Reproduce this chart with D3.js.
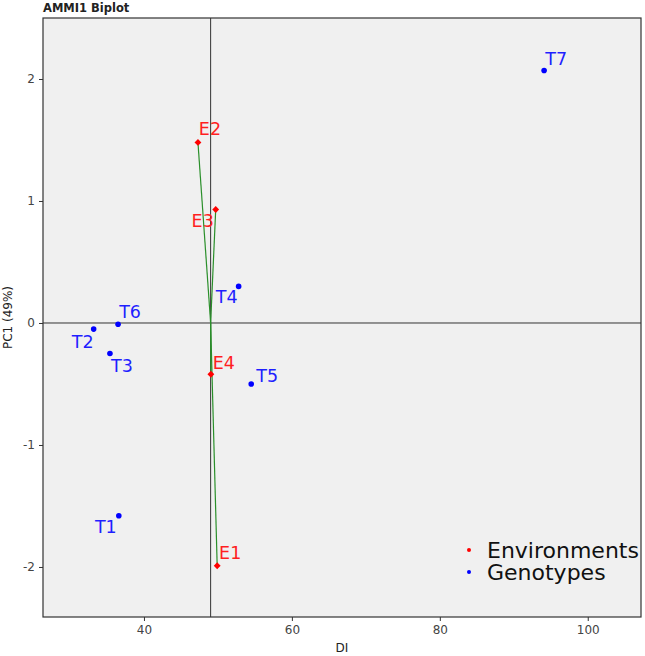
<!DOCTYPE html>
<html>
<head>
<meta charset="utf-8">
<script src="https://cdn.jsdelivr.net/npm/d3@7"></script>
<style>
  body { margin: 0; background: #fff; font-family: "DejaVu Sans", sans-serif; }
</style>
</head>
<body>
<script>
// genotypes
var genoNames = ["T1", "T2", "T3", "T4", "T5", "T6", "T7"];
var genoDI    = [36.6, 33.2, 35.4, 52.8, 54.5, 36.5, 94.1];
var genoPC1   = [-1.58, -0.05, -0.25, 0.30, -0.50, -0.01, 2.07];

// environments
var envNames = ["E1", "E2", "E3", "E4"];
var envDI    = [49.9, 47.3, 49.7, 49.05];
var envPC1   = [-1.99, 1.48, 0.93, -0.42];

var xTicks = [40, 60, 80, 100];
var yTicks = [-2, -1, 0, 1, 2];

// label nudges (px) so names sit like the original plot
var nudge = {
  T1: [-13, 17], T2: [-11, 19], T3: [12, 19], T4: [-12, 17], T5: [16, -2],
  T6: [12, -6], T7: [12, -5], E1: [13, -7], E2: [12, -7], E3: [-13, 17], E4: [13, -5]
};

var W = 645, H = 656;
var margin = {top: 18, right: 4, bottom: 39, left: 43};
var iw = W - margin.left - margin.right,
    ih = H - margin.top - margin.bottom;

var meanDI = d3.mean(genoDI);

var x = d3.scaleLinear().domain([26.35, 107.2]).range([0, iw]);
var y = d3.scaleLinear().domain([-2.41, 2.5]).range([ih, 0]);

var svg = d3.select("body").append("svg")
    .attr("width", W).attr("height", H);

svg.append("text")
    .attr("x", margin.left).attr("y", 12)
    .attr("font-size", 11.5).attr("font-weight", "bold")
    .attr("fill", "#222")
    .text("AMMI1 Biplot");

var g = svg.append("g").attr("transform", "translate(" + margin.left + "," + margin.top + ")");

g.append("rect").attr("width", iw).attr("height", ih).attr("fill", "#f0f0f0");

// reference lines
g.append("line")
    .attr("x1", 0).attr("x2", iw).attr("y1", y(0)).attr("y2", y(0))
    .attr("stroke", "#333").attr("stroke-width", 1);
g.append("line")
    .attr("x1", x(meanDI)).attr("x2", x(meanDI)).attr("y1", 0).attr("y2", ih)
    .attr("stroke", "#333").attr("stroke-width", 1);

// environment vectors
g.selectAll("line.vec")
    .data(envNames)
    .enter().append("line")
    .attr("class", "vec")
    .attr("x1", x(meanDI)).attr("y1", y(0))
    .attr("x2", function(d, i) { return x(envDI[i]); })
    .attr("y2", function(d, i) { return y(envPC1[i]); })
    .attr("stroke", "#2a8f2a").attr("stroke-width", 1.2);

// genotype points
g.selectAll("circle.geno")
    .data(genoNames)
    .enter().append("circle")
    .attr("class", "geno")
    .attr("cx", function(d, i) { return x(genoDI[i]); })
    .attr("cy", function(d, i) { return y(genoPC1[i]); })
    .attr("r", 2.8)
    .attr("fill", "#0000ff");

// environment points (diamonds)
g.selectAll("path.env")
    .data(envNames)
    .enter().append("path")
    .attr("class", "env")
    .attr("d", d3.symbol(d3.symbolDiamond2, 30))
    .attr("transform", function(d, i) { return "translate(" + x(envDI[i]) + "," + y(envPC1[i]) + ")"; })
    .attr("fill", "#ff0000");

// labels
g.selectAll("text.glab")
    .data(genoNames)
    .enter().append("text")
    .attr("class", "glab")
    .attr("x", function(d, i) { return x(genoDI[i]) + nudge[d][0]; })
    .attr("y", function(d, i) { return y(genoPC1[i]) + nudge[d][1]; })
    .attr("text-anchor", "middle")
    .attr("font-size", 17.5)
    .attr("fill", "#1f1fff")
    .text(function(d) { return d; });

g.selectAll("text.elab")
    .data(envNames)
    .enter().append("text")
    .attr("class", "elab")
    .attr("x", function(d, i) { return x(envDI[i]) + nudge[d][0]; })
    .attr("y", function(d, i) { return y(envPC1[i]) + nudge[d][1]; })
    .attr("text-anchor", "middle")
    .attr("font-size", 17.5)
    .attr("fill", "#ff1f1f")
    .text(function(d) { return d; });

// panel border
g.append("rect").attr("width", iw).attr("height", ih)
    .attr("fill", "none").attr("stroke", "#333").attr("stroke-width", 1.2);

// legend (spills a little past the panel edge, as in the original)
var legItems = [["Environments", "#ff0000"], ["Genotypes", "#0000ff"]];
var leg = svg.append("g").attr("transform", "translate(469,550)");
leg.selectAll("circle")
    .data(legItems).enter().append("circle")
    .attr("cx", 0).attr("cy", function(d, i) { return i * 22; })
    .attr("r", 2).attr("fill", function(d) { return d[1]; });
leg.selectAll("text")
    .data(legItems).enter().append("text")
    .attr("x", 18).attr("y", function(d, i) { return i * 22 + 8; })
    .attr("font-size", 22).attr("fill", "#111")
    .text(function(d) { return d[0]; });

// axes
var xAxis = g.append("g").attr("transform", "translate(0," + ih + ")")
    .call(d3.axisBottom(x).tickValues(xTicks).tickSize(4).tickPadding(4)
      .tickFormat(function(d) { return String(d); }));
var yAxis = g.append("g")
    .call(d3.axisLeft(y).tickValues(yTicks).tickSize(4).tickPadding(4)
      .tickFormat(function(d) { return String(d); }));
[xAxis, yAxis].forEach(function(a) {
  a.select(".domain").remove();
  a.selectAll("line").attr("stroke", "#333");
  a.selectAll("text").attr("font-size", 12).attr("fill", "#444")
    .attr("font-family", "DejaVu Sans, sans-serif");
});

svg.append("text")
    .attr("x", margin.left + iw / 2).attr("y", H - 4)
    .attr("text-anchor", "middle").attr("font-size", 12).attr("fill", "#222")
    .text("DI");

svg.append("text")
    .attr("transform", "translate(12," + (margin.top + ih / 2) + ") rotate(-90)")
    .attr("text-anchor", "middle").attr("font-size", 12).attr("fill", "#222")
    .text("PC1 (49%)");
</script>
</body>
</html>
